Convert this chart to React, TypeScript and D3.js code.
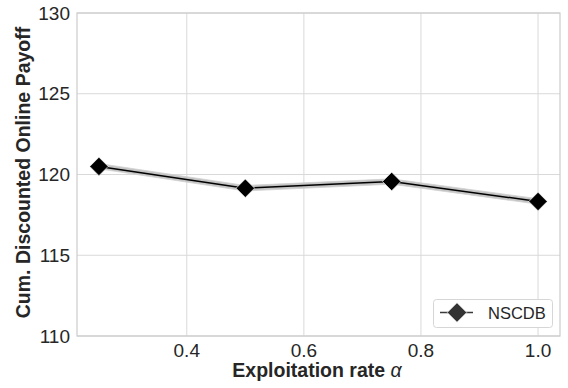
import React, { useEffect, useRef } from 'react';
import * as d3 from 'd3';

const alphas = [0.25, 0.5, 0.75, 1.0];
const payoff = [120.5, 119.15, 119.57, 118.33];
const ciLow = [120.35, 118.98, 119.4, 118.16];
const ciHigh = [120.68, 119.32, 119.73, 118.5];
const xTicks = [0.4, 0.6, 0.8, 1.0];
const yTicks = [110, 115, 120, 125, 130];
const seriesName = 'NSCDB';

const App = () => {
  const svgRef = useRef<SVGSVGElement>(null);

  useEffect(() => {
    const svg = d3.select(svgRef.current);
    svg.selectAll('*').remove();

    const margin = { top: 13, right: 8, bottom: 52, left: 77 };
    const W = 568;
    const H = 388;
    const font = 'Liberation Sans, Arial, sans-serif';

    const x = d3.scaleLinear().domain([0.2125, 1.0375]).range([margin.left, W - margin.right]);
    const y = d3.scaleLinear().domain([110, 130]).range([H - margin.bottom, margin.top]);

    svg.append('rect').attr('width', W).attr('height', H).attr('fill', '#fff');

    // grid
    const grid = svg.append('g');
    grid
      .selectAll('.gx')
      .data(xTicks)
      .enter()
      .append('line')
      .attr('x1', (d) => x(d))
      .attr('x2', (d) => x(d))
      .attr('y1', margin.top)
      .attr('y2', H - margin.bottom)
      .attr('stroke', '#d9d9d9')
      .attr('stroke-width', 1);
    grid
      .selectAll('.gy')
      .data(yTicks)
      .enter()
      .append('line')
      .attr('x1', margin.left)
      .attr('x2', W - margin.right)
      .attr('y1', (d) => y(d))
      .attr('y2', (d) => y(d))
      .attr('stroke', '#d9d9d9')
      .attr('stroke-width', 1);

    svg
      .append('rect')
      .attr('x', margin.left)
      .attr('y', margin.top)
      .attr('width', W - margin.left - margin.right)
      .attr('height', H - margin.top - margin.bottom)
      .attr('fill', 'none')
      .attr('stroke', '#cccccc')
      .attr('stroke-width', 1.2);

    // tick labels
    svg
      .selectAll('.xt')
      .data(xTicks)
      .enter()
      .append('text')
      .attr('x', (d) => x(d))
      .attr('y', 357)
      .attr('text-anchor', 'middle')
      .attr('font-family', font)
      .attr('font-size', 19)
      .attr('fill', '#262626')
      .text((d) => d.toFixed(1));
    svg
      .selectAll('.yt')
      .data(yTicks)
      .enter()
      .append('text')
      .attr('x', margin.left - 7)
      .attr('y', (d) => y(d))
      .attr('dy', '0.35em')
      .attr('text-anchor', 'end')
      .attr('font-family', font)
      .attr('font-size', 19)
      .attr('fill', '#262626')
      .text((d) => d);

    // axis labels
    const xl = svg
      .append('text')
      .attr('x', 317)
      .attr('y', 377)
      .attr('text-anchor', 'middle')
      .attr('font-family', font)
      .attr('font-size', 19.5)
      .attr('font-weight', 'bold')
      .attr('fill', '#262626');
    xl.append('tspan').text('Exploitation rate ');
    xl.append('tspan').attr('font-style', 'italic').attr('font-weight', 'normal').text('α');

    svg
      .append('text')
      .attr('transform', `translate(29.5,${(25 + 320) / 2}) rotate(-90)`)
      .attr('text-anchor', 'middle')
      .attr('font-family', font)
      .attr('font-size', 19.5)
      .attr('font-weight', 'bold')
      .attr('fill', '#262626')
      .text('Cum. Discounted Online Payoff');

    // CI band
    const idx = alphas.map((_, i) => i);
    const area = d3
      .area<number>()
      .x((i) => x(alphas[i]))
      .y0((i) => y(ciLow[i]))
      .y1((i) => y(ciHigh[i]));
    svg.append('path').attr('d', area(idx)).attr('fill', '#c4c4c4').attr('stroke', '#d0d0d0').attr('stroke-width', 0.8);

    const line = d3
      .line<number>()
      .x((i) => x(alphas[i]))
      .y((i) => y(payoff[i]));
    svg.append('path').attr('d', line(idx)).attr('fill', 'none').attr('stroke', '#000').attr('stroke-width', 1.5);

    const diamond = d3.symbol().type(d3.symbolSquare).size(170);
    svg
      .selectAll('.pt')
      .data(idx)
      .enter()
      .append('path')
      .attr('d', diamond())
      .attr('transform', (i) => `translate(${x(alphas[i])},${y(payoff[i])}) rotate(45)`)
      .attr('fill', '#000')
      .attr('stroke', '#fff')
      .attr('stroke-width', 0.6);

    // legend
    const lg = svg.append('g').attr('transform', 'translate(433,299)');
    lg.append('rect')
      .attr('x', 0.5)
      .attr('y', 0.5)
      .attr('width', 119)
      .attr('height', 28)
      .attr('rx', 3)
      .attr('fill', '#fff')
      .attr('stroke', '#d6d6d6')
      .attr('stroke-width', 1);
    lg.append('line').attr('x1', 7).attr('x2', 40).attr('y1', 13.5).attr('y2', 13.5).attr('stroke', '#3a3a3a').attr('stroke-width', 1.5);
    lg.append('path')
      .attr('d', d3.symbol().type(d3.symbolSquare).size(190)())
      .attr('transform', 'translate(24,13.5) rotate(45)')
      .attr('fill', '#333')
      .attr('stroke', '#fff')
      .attr('stroke-width', 0.6);
    lg.append('text')
      .attr('x', 55)
      .attr('y', 14)
      .attr('dy', '0.35em')
      .attr('font-family', font)
      .attr('font-size', 16.5)
      .attr('fill', '#262626')
      .text(seriesName);
  }, []);

  return (
    <div>
      <svg ref={svgRef} width={568} height={388} style={{ position: 'absolute', left: 0, top: 0 }}></svg>
    </div>
  );
};

export default App;
